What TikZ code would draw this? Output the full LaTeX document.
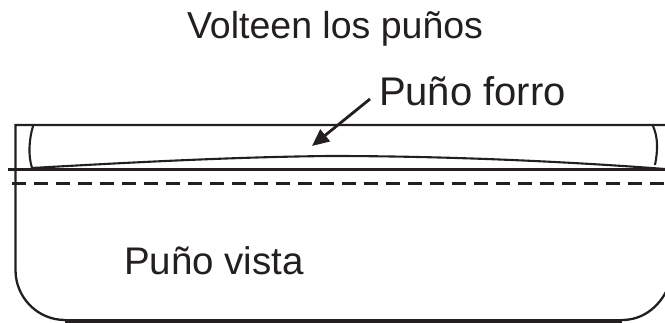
\documentclass[tikz,border=0pt]{standalone}
\usepackage{fontspec}
\setmainfont{Liberation Sans}
\usetikzlibrary{arrows.meta}
\definecolor{ink}{RGB}{35,31,32}
\tikzset{
  lbl/.style={anchor=base west,inner sep=0pt,outer sep=0pt,text=ink},
  outline/.style={draw=ink,line width=2.3pt},
  thin curve/.style={draw=ink,line width=2.1pt},
  heavy/.style={draw=ink,line width=3.4pt},
  hem/.style={draw=ink,line width=3.4pt,dash pattern=on 14pt off 8pt},
  pointer/.style={draw=ink,line width=2.8pt,-{Triangle[length=17pt,width=15pt]}}
}
\begin{document}
\begin{tikzpicture}[x=1pt,y=-1pt]
\useasboundingbox (0,0) rectangle (665,323);
\clip (0,0) rectangle (665,323);
\node[lbl,font=\fontsize{37.5}{40}\selectfont] (title) at (187,39) {Volteen los puños};
\node[lbl,font=\fontsize{40}{44}\selectfont] (forro) at (379,106) {Puño forro};
\node[lbl,font=\fontsize{38.5}{42}\selectfont] (vista) at (124,275) {Puño vista};
\coordinate (astart) at (370,99);
\coordinate (aend) at (312,146);
\draw[outline] (670,125) -- (15.5,125) -- (15.5,270) .. controls (15.5,298) and (38,320) .. (65,320);
\draw[draw=ink,line width=4pt] (65,321.5) -- (622,321.5);
\draw[outline] (622,320) .. controls (642,320) and (658,308) .. (667,290);
\draw[thin curve] (33,126) .. controls (29,140) and (28,155) .. (32,168);
\draw[thin curve] (653,126) .. controls (658,137) and (658,150) .. (655,165);
\draw[thin curve] (32,168) .. controls (120,163) and (230,157) .. (330,156) .. controls (440,156) and (560,161) .. (665,169);
\draw[heavy] (8,169.5) -- (665,169.5);
\draw[hem] (12,183.5) -- (665,183.5);
\draw[pointer] (astart) -- (aend);
\end{tikzpicture}
\end{document}
